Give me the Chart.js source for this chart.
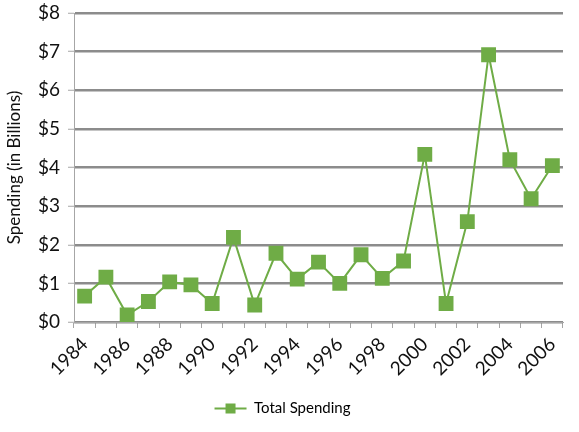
<!DOCTYPE html>
<html>
<head>
<meta charset="utf-8">
<script src="https://cdn.jsdelivr.net/npm/chart.js@4"></script>
<style>
  html, body { margin: 0; padding: 0; background: #fff; }
  #wrap { width: 579px; height: 432px; }
</style>
</head>
<body>
<div id="wrap"><canvas id="chart"></canvas></div>
<script>
const years = ["1984", "1985", "1986", "1987", "1988", "1989", "1990", "1991", "1992", "1993", "1994",
  "1995", "1996", "1997", "1998", "1999", "2000", "2001", "2002", "2003", "2004", "2005", "2006"];
const totalSpending = [0.67, 1.16, 0.18, 0.53, 1.04, 0.96, 0.48, 2.19, 0.44, 1.78, 1.11,
  1.55, 1.0, 1.74, 1.13, 1.58, 4.34, 0.48, 2.6, 6.92, 4.2, 3.19, 4.05];
const yMax = 8;

const green = "#6fac46";
const font = "Lato, 'Open Sans', sans-serif";

// draws a line through the legend square, like excel does
const legendLine = {
  id: "legendLine",
  afterDraw(chart) {
    const legend = chart.legend;
    if (!legend || !legend.legendHitBoxes) return;
    const ctx = chart.ctx;
    legend.legendHitBoxes.forEach(function (box) {
      const cy = box.top + box.height / 2;
      const cx = box.left + 14;
      ctx.save();
      ctx.strokeStyle = green;
      ctx.lineWidth = 2;
      ctx.beginPath();
      ctx.moveTo(cx - 16, cy);
      ctx.lineTo(cx + 16, cy);
      ctx.stroke();
      ctx.fillStyle = green;
      ctx.fillRect(cx - 5, cy - 5, 10, 10);
      ctx.restore();
    });
  }
};

const ctx = document.getElementById("chart").getContext("2d");
const chart = new Chart(ctx, {
  type: "line",
  data: {
    labels: years,
    datasets: [
      {
        label: "Total Spending",
        data: totalSpending,
        borderColor: green,
        backgroundColor: green,
        borderWidth: 2,
        pointStyle: "rect",
        pointRadius: 10.5,
        pointHoverRadius: 10.5,
        pointBorderWidth: 0,
        tension: 0,
      },
    ],
  },
  options: {
    responsive: true,
    maintainAspectRatio: false,
    animation: false,
    layout: { padding: { top: 13, right: 16, left: 4, bottom: 6 } },
    plugins: {
      tooltip: { enabled: false },
      legend: {
        position: "bottom",
        labels: {
          font: { family: font, size: 15 },
          color: "#222",
          boxWidth: 30,
          boxHeight: 10,
          padding: 12,
          generateLabels: function (c) {
            return [{ text: "Total Spending", fillStyle: "rgba(0,0,0,0)", strokeStyle: "rgba(0,0,0,0)", lineWidth: 0, datasetIndex: 0 }];
          },
        },
      },
    },
    scales: {
      x: {
        offset: true,
        grid: {
          display: true,
          drawOnChartArea: false,
          drawTicks: true,
          tickLength: 6,
          offset: true,
          color: "#a6a6a6",
        },
        border: { color: "#a6a6a6", width: 1 },
        ticks: {
          autoSkip: false,
          maxRotation: 45,
          minRotation: 45,
          color: "#111",
          font: { family: font, size: 19 },
          padding: 5,
          callback: function (v, i) {
            return i % 2 === 0 ? years[i] : "";
          },
        },
        afterFit: function (s) { s.height = 67; },
      },
      y: {
        min: 0,
        max: yMax,
        title: {
          display: true,
          text: "Spending (in Billions)",
          color: "#111",
          font: { family: font, size: 17 },
          padding: { top: 0, bottom: 8 },
        },
        grid: {
          color: function (c) { return c.index % 2 === 0 ? "#8c8c8c" : "#d4d4d4"; },
          lineWidth: function (c) { return c.index % 2 === 0 ? 2.5 : 1; },
          tickColor: function (c) { return c.index % 2 === 0 ? "#a6a6a6" : "rgba(0,0,0,0)"; },
          tickLength: 6,
          tickWidth: 1,
        },
        border: { color: "#a6a6a6", width: 1 },
        ticks: {
          stepSize: 0.5,
          color: "#111",
          font: { family: font, size: 19 },
          padding: 8,
          callback: function (v) {
            return Number.isInteger(v) ? "$" + v : "";
          },
        },
        afterFit: function (s) { s.width = 70; s.paddingTop = 0; s.paddingBottom = 0; },
      },
    },
  },
  plugins: [legendLine],
});
</script>
</body>
</html>
